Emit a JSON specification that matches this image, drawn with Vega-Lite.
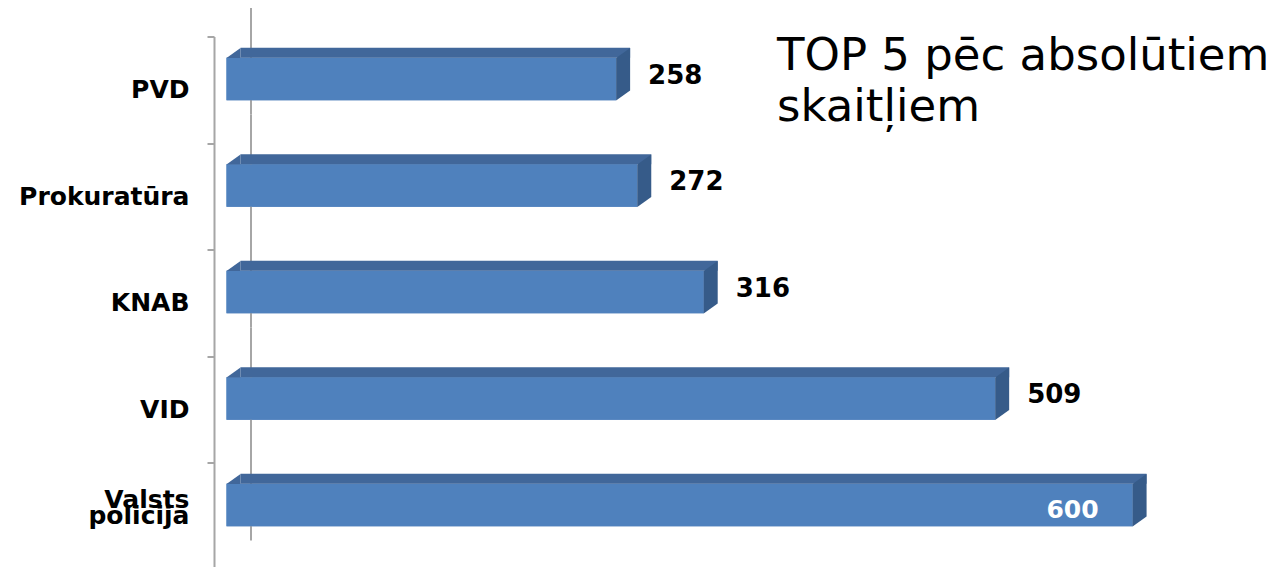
{
  "$schema": "https://vega.github.io/schema/vega-lite/v6.json",
  "width": 1042,
  "height": 530,
  "autosize": {"type": "none"},
  "padding": {"left": 226.5, "top": 36.5, "right": 0, "bottom": 0},
  "background": "white",
  "config": {"view": {"stroke": null}, "font": "DejaVu Sans"},
  "title": {
    "text": ["TOP 5 pēc absolūtiem", "skaitļiem"],
    "anchor": "start",
    "frame": "group",
    "orient": "top",
    "offset": 0,
    "dx": 550.5,
    "dy": 126.5,
    "baseline": "top",
    "fontSize": 45,
    "fontWeight": "normal",
    "font": "DejaVu Sans",
    "color": "black",
    "lineHeight": 51
  },
  "data": {
    "values": [
      {"org": "PVD", "value": 258},
      {"org": "Prokuratūra", "value": 272},
      {"org": "KNAB", "value": 316},
      {"org": "VID", "value": 509},
      {"org": "Valsts policija", "value": 600}
    ]
  },
  "encoding": {
    "y": {
      "field": "org",
      "type": "nominal",
      "sort": null,
      "scale": {
        "domain": ["PVD", "Prokuratūra", "KNAB", "VID", "Valsts policija"],
        "range": [0, 532.5],
        "paddingInner": 0,
        "paddingOuter": 0
      },
      "axis": {
        "title": null,
        "offset": 12.5,
        "tickSize": 7,
        "tickBand": "extent",
        "tickColor": "#a6a6a6",
        "tickWidth": 2,
        "domainColor": "#a6a6a6",
        "domainWidth": 2,
        "labelFont": "DejaVu Sans",
        "labelFontSize": 25,
        "labelFontWeight": "bold",
        "labelColor": "black",
        "labelPadding": 18,
        "labelAlign": "right",
        "labelExpr": "datum.label == 'Valsts policija' ? ['Valsts', '', 'policija'] : ['', datum.label]",
        "labelLineHeight": 16,
        "labelOffset": -16,
        "labelOverlap": false,
        "labelBaseline": "middle",
        "labelLimit": 0
      }
    }
  },
  "layer": [
    {
      "mark": {"type": "bar", "color": "#4f81bd", "height": 42.5, "yOffset": -10.75},
      "encoding": {
        "x": {"field": "value", "type": "quantitative", "scale": {"domain": [0, 690], "nice": false, "zero": true}, "axis": null}
      }
    },
    {
      "mark": {"type": "point", "filled": false, "opacity": 1, "stroke": "#a6a6a6", "strokeWidth": 2, "size": 26896, "shape": "M0.2988,-0.997L0.2988,0.3018"},
      "encoding": {
        "x": {"datum": 0, "type": "quantitative"}
      }
    },
    {
      "mark": {"type": "bar", "color": "#4f81bd", "height": 42.5, "yOffset": -10.75},
      "encoding": {
        "x": {"field": "value", "type": "quantitative"}
      }
    },
    {
      "mark": {"type": "bar", "color": "#41679a", "height": 10, "yOffset": -37, "xOffset": 14, "x2Offset": 14},
      "encoding": {
        "x": {"field": "value", "type": "quantitative"}
      }
    },
    {
      "mark": {"type": "point", "filled": true, "opacity": 1, "strokeWidth": 0, "color": "#41679a", "size": 784, "shape": "M0,0L1,-0.714L1,0Z", "yOffset": -31.75},
      "encoding": {
        "x": {"datum": 0, "type": "quantitative"}
      }
    },
    {
      "mark": {"type": "point", "filled": true, "opacity": 1, "strokeWidth": 0, "color": "#365b89", "size": 784, "shape": "M0,0L1,-0.714L1,2.321L0,3.036Z", "yOffset": -31.75},
      "encoding": {
        "x": {"field": "value", "type": "quantitative"}
      }
    },
    {
      "transform": [{"filter": "datum.org !== 'Valsts policija'"}],
      "mark": {"type": "text", "align": "left", "baseline": "middle", "dx": 32, "dy": -14, "fontSize": 26, "fontWeight": "bold", "font": "DejaVu Sans", "color": "black"},
      "encoding": {
        "x": {"field": "value", "type": "quantitative"},
        "text": {"field": "value", "type": "quantitative"}
      }
    },
    {
      "transform": [{"filter": "datum.org === 'Valsts policija'"}],
      "mark": {"type": "text", "align": "right", "baseline": "middle", "dx": -34, "dy": -6, "fontSize": 25, "fontWeight": "bold", "font": "DejaVu Sans", "color": "white"},
      "encoding": {
        "x": {"field": "value", "type": "quantitative"},
        "text": {"field": "value", "type": "quantitative"}
      }
    }
  ]
}
